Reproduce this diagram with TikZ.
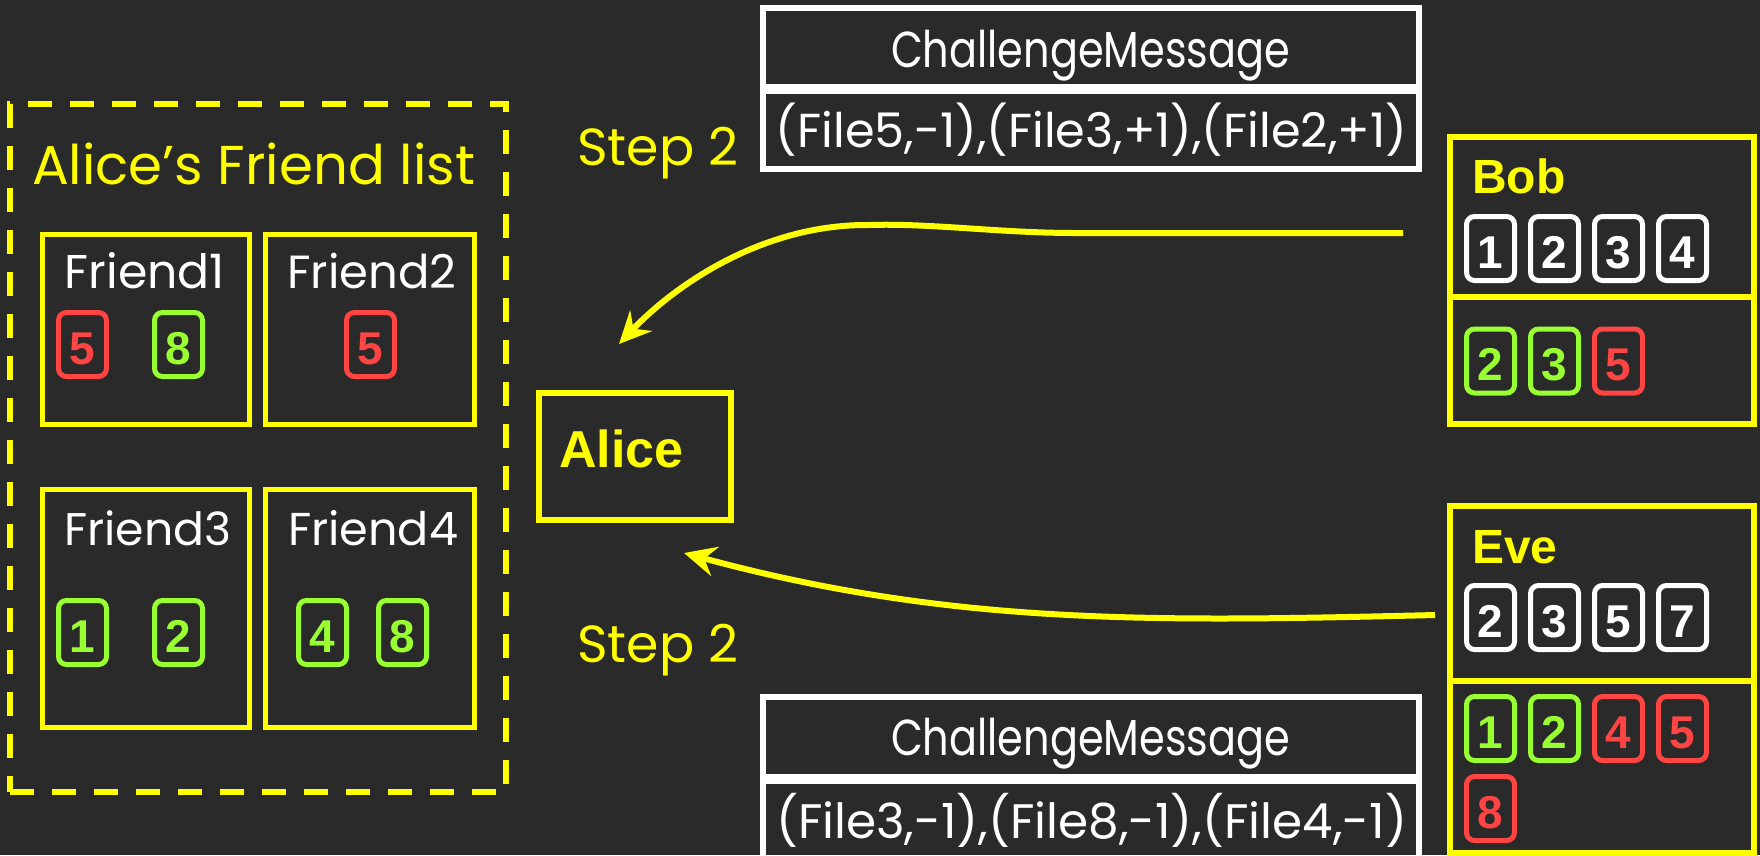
\documentclass[tikz,border=0pt]{standalone}
\usepackage{fontspec}
\usepackage{graphicx}
\setmainfont{Poppins}
\newfontfamily\arialfont{Liberation Sans}
\usetikzlibrary{arrows.meta}

\definecolor{bg}{HTML}{2A2A2A}
\definecolor{hiyellow}{HTML}{FFFF00}
\definecolor{okgreen}{HTML}{99FF33}
\definecolor{badred}{HTML}{FF4444}

% fit a piece of text to a given width
\newcommand{\wfit}[2]{\resizebox{#1}{!}{#2}}
% fit to a width and stretch it upward a little
\newcommand{\wfitup}[3]{\scalebox{1}[#2]{\resizebox{#1}{!}{#3}}}

\tikzset{
  friendbox/.style={draw=hiyellow, line width=5pt, inner sep=0pt, minimum width=#1},
  ybox/.style={draw=hiyellow, line width=6pt, inner sep=0pt},
  wbox/.style={draw=white, line width=6pt, inner sep=0pt},
  numbox/.style={draw=#1, text=#1, line width=5pt, rounded corners=8pt,
    minimum width=48pt, minimum height=64pt, inner sep=0pt,
    text height=39pt, text depth=0pt,
    font=\arialfont\bfseries\fontsize{46}{50}\selectfont},
  hand/.style={inner sep=0pt, font=\fontsize{50}{60}\selectfont},
  nametext/.style={inner sep=0pt, text=hiyellow, font=\arialfont\bfseries\fontsize{48}{56}\selectfont},
  flow/.style={draw=hiyellow, line width=6pt,
    -{Stealth[length=32pt, width=30pt, inset=11pt]}},
}

\begin{document}
\begin{tikzpicture}[x=1pt, y=-1pt]
\fill[bg] (0,0) rectangle (1760,855);
\useasboundingbox (0,0) rectangle (1760,855);

% ---- Alice's friend list ----
\node[draw=hiyellow, line width=6pt, dash pattern=on 24pt off 18pt,
      minimum width=496pt, minimum height=688pt, inner sep=0pt] (flist) at (258,448) {};
\node[hand, text=hiyellow, anchor=base] (flisttitle) at (253.5,184) {\wfit{443pt}{Alice's Friend list}};

\node[friendbox=207pt, minimum height=190pt] (f1) at (146,329.5) {};
\node[friendbox=209pt, minimum height=190pt] (f2) at (370,329.5) {};
\node[friendbox=207pt, minimum height=238pt] (f3) at (146,608.5) {};
\node[friendbox=209pt, minimum height=238pt] (f4) at (370,608.5) {};

\node[hand, text=white, anchor=base] (f1t) at (145,288) {\wfit{160pt}{Friend1}};
\node[hand, text=white, anchor=base] (f2t) at (372,288) {\wfit{169pt}{Friend2}};
\node[hand, text=white, anchor=base] (f3t) at (148,545) {\wfit{167pt}{Friend3}};
\node[hand, text=white, anchor=base] (f4t) at (373,545) {\wfit{170pt}{Friend4}};

\node[numbox=badred]  (f1a) at (82.5,344.5) {5};
\node[numbox=okgreen] (f1b) at (178.5,344.5) {8};
\node[numbox=badred]  (f2a) at (370.5,344.5) {5};
\node[numbox=okgreen] (f3a) at (82.5,632.5) {1};
\node[numbox=okgreen] (f3b) at (178.5,632.5) {2};
\node[numbox=okgreen] (f4a) at (322.5,632.5) {4};
\node[numbox=okgreen] (f4b) at (402.5,632.5) {8};

% ---- Alice ----
\node[ybox, minimum width=192pt, minimum height=127pt] (alice) at (635,456.5) {};
\node[nametext, anchor=base west, font=\arialfont\bfseries\fontsize{52}{60}\selectfont] (alicet) at (559,467) {Alice};

% ---- step labels ----
\node[hand, text=hiyellow, anchor=base west] (step1) at (577,165) {\wfit{161pt}{Step 2}};
\node[hand, text=hiyellow, anchor=base west] (step2) at (577,662) {\wfit{161pt}{Step 2}};

% ---- challenge messages ----
\node[wbox, minimum width=656pt, minimum height=79pt] (cmtop) at (1091,47.5) {};
\node[wbox, minimum width=656pt, minimum height=78pt] (cmtopbody) at (1091,130) {};
\node[hand, text=white, anchor=base] (cmtopt) at (1090.5,67) {\wfitup{399pt}{1.22}{ChallengeMessage}};
\node[hand, text=white, anchor=base] (cmtopb) at (1091.5,147) {\wfit{631pt}{(File5,-1),(File3,+1),(File2,+1)}};

\node[wbox, minimum width=656pt, minimum height=80pt] (cmbot) at (1091,737) {};
\node[wbox, minimum width=656pt, minimum height=79pt] (cmbotbody) at (1091,820.5) {};
\node[hand, text=white, anchor=base] (cmbott) at (1090.5,755) {\wfitup{399pt}{1.22}{ChallengeMessage}};
\node[hand, text=white, anchor=base] (cmbotb) at (1091.5,838) {\wfit{631pt}{(File3,-1),(File8,-1),(File4,-1)}};

% ---- Bob ----
\node[ybox, minimum width=304pt, minimum height=160pt] (bobtop) at (1602,217) {};
\node[ybox, minimum width=304pt, minimum height=127pt] (bobbot) at (1602,360.5) {};
\node[nametext, anchor=base west] (bobt) at (1472,193) {Bob};
\node[numbox=white] (b1) at (1490.5,248.5) {1};
\node[numbox=white] (b2) at (1554.5,248.5) {2};
\node[numbox=white] (b3) at (1618.5,248.5) {3};
\node[numbox=white] (b4) at (1682.5,248.5) {4};
\node[numbox=okgreen] (bc1) at (1490.5,361) {2};
\node[numbox=okgreen] (bc2) at (1554.5,361) {3};
\node[numbox=badred]  (bc3) at (1618.5,361) {5};

% ---- Eve ----
\node[ybox, minimum width=304pt, minimum height=175pt] (evetop) at (1602,593.5) {};
\node[ybox, minimum width=304pt, minimum height=172pt] (evebot) at (1602,767) {};
\node[nametext, anchor=base west] (evet) at (1472,563) {Eve};
\node[numbox=white] (e1) at (1490.5,617.5) {2};
\node[numbox=white] (e2) at (1554.5,617.5) {3};
\node[numbox=white] (e3) at (1618.5,617.5) {5};
\node[numbox=white] (e4) at (1682.5,617.5) {7};
\node[numbox=okgreen] (ec1) at (1490.5,728.5) {1};
\node[numbox=okgreen] (ec2) at (1554.5,728.5) {2};
\node[numbox=badred]  (ec3) at (1618.5,728.5) {4};
\node[numbox=badred]  (ec4) at (1682.5,728.5) {5};
\node[numbox=badred]  (ec5) at (1490.5,808.5) {8};

% ---- messages sent to Alice ----
\coordinate (bobsend) at (1403,233);
\coordinate (bobturn) at (1075,233);
\coordinate (bobcrest) at (869,225);
\coordinate (alicein1) at (619,344);
\draw[flow] (bobsend) -- (bobturn)
  .. controls (1000,233) and (930,223) .. (bobcrest)
  .. controls (760,224) and (672,288) .. (alicein1);

\coordinate (evesend) at (1435,615);
\coordinate (alicein2) at (684,553);
\draw[flow] (evesend) .. controls (1150,622) and (950,625) .. (alicein2);
\end{tikzpicture}
\end{document}
